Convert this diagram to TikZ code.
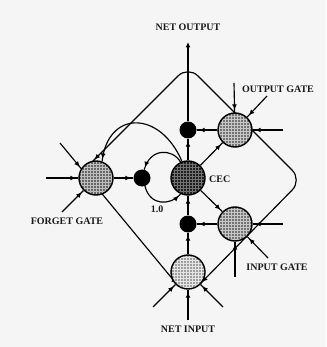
\documentclass[tikz,border=0pt]{standalone}
\usepackage{fontspec}
\setmainfont{Liberation Serif}
\usetikzlibrary{arrows.meta,decorations.markings,patterns}
\pgfdeclarelayer{bg}
\pgfdeclarelayer{background}
\pgfsetlayers{bg,background,main}
\tikzset{
  >={Latex[length=5.5pt,width=5pt]},
  ln/.style={line width=1.15pt, draw=black},
  endarr/.style={postaction={decorate,decoration={markings,mark=at position -2.5pt with {\arrow{>}}}}},
  startarr/.style={postaction={decorate,decoration={markings,mark=at position 2.5pt with {\arrowreversed{>}}}}},
  midarr/.style={postaction={decorate,decoration={markings,mark=at position #1 with {\arrow{>}}}}},
  gate/.style 2 args={circle, draw=black, line width=1.4pt, minimum size=34pt, inner sep=0pt,
    preaction={fill=#1}, preaction={pattern=grid, pattern color=#2}},
  dotnode/.style={circle, fill=black, minimum size=17pt, inner sep=0pt},
  lbl/.style={font=\fontsize{10}{12}\selectfont\bfseries, inner sep=0pt, text=black!90}
}
\begin{document}
\begin{tikzpicture}[x=1pt,y=-1pt]
\useasboundingbox (0,0) rectangle (326,347);
\begin{pgfonlayer}{bg}
\fill[black!4] (0,0) rectangle (326,347);
\end{pgfonlayer}

% nodes
\node[gate={black!60}{black!25}] (F) at (96,178) {};
\node[dotnode] (L) at (142,178) {};
\node[gate={black!88}{black!55}] (C) at (188,178) {};
\node[dotnode] (T) at (188,130) {};
\node[gate={black!55}{black!22}] (O) at (235,130) {};
\node[gate={black!55}{black!22}] (I) at (235,224) {};
\node[dotnode] (B) at (188,224) {};
\node[gate={black!38}{black!10}] (N) at (188,272) {};

% labels
\node[lbl] (lout) at (188,27) {NET OUTPUT};
\node[lbl] (lin) at (188,329) {NET INPUT};
\node[lbl] (log) at (278,89) {OUTPUT GATE};
\node[lbl] (lig) at (277,267) {INPUT GATE};
\node[lbl] (lfg) at (67,221) {FORGET GATE};
\node[lbl,anchor=west] (lcec) at (209,179) {CEC};
\node[lbl] (lone) at (157,209) {1.0};

% coordinates
\coordinate (outtip) at (188,42);
\coordinate (apex) at (188,66);
\coordinate (corner) at (302,180);
\coordinate (Fd) at (92.7,161.3);
\coordinate (Nd) at (200,284);
\coordinate (ll0) at (60,143);
\coordinate (ll1) at (178.2,285.9);
\coordinate (f1) at (46,178);
\coordinate (f2) at (62,212);
\coordinate (o1) at (234,83);
\coordinate (o2) at (267,96);
\coordinate (o3) at (283,130);
\coordinate (i1) at (283,224);
\coordinate (i2) at (268,258);
\coordinate (i3) at (235,277);
\coordinate (n1) at (188,320);
\coordinate (n2) at (153,307);
\coordinate (n3) at (223,307);

\begin{pgfonlayer}{background}
% diamond recurrent lines
\draw[ln,rounded corners=14pt,startarr,endarr] (Fd) -- (apex) -- (corner) -- (Nd);
\draw[ln,midarr=31pt,endarr] (ll0) -- (ll1);
% net output
\draw[ln,->] (T) -- (outtip);
% internal connections
\draw[ln,endarr] (F) -- (L);
\draw[ln,endarr] (C.115) .. controls (172,148) and (150,148) .. (L.75);
\draw[ln,endarr] (L.290) .. controls (150,206) and (170,206) .. (C.245);
\draw[ln,endarr] (C.110) .. controls (160,110) and (108,110) .. (F.70);
\draw[ln,endarr] (C) -- (T);
\draw[ln,endarr] (O) -- (T);
\draw[ln,endarr] (C) -- (O);
\draw[ln,endarr] (C) -- (I);
\draw[ln,endarr] (I) -- (B);
\draw[ln,endarr] (B) -- (C);
\draw[ln,endarr] (N) -- (B);
% external inputs
\draw[ln,endarr] (f1) -- (F);
\draw[ln,endarr] (f2) -- (F);
\draw[ln,endarr] (o1) -- (O);
\draw[ln,endarr] (o2) -- (O);
\draw[ln,endarr] (o3) -- (O);
\draw[ln,endarr] (i1) -- (I);
\draw[ln,endarr] (i2) -- (I);
\draw[ln,endarr] (i3) -- (I);
\draw[ln,endarr] (n1) -- (N);
\draw[ln,endarr] (n2) -- (N);
\draw[ln,endarr] (n3) -- (N);
\end{pgfonlayer}
\end{tikzpicture}
\end{document}
